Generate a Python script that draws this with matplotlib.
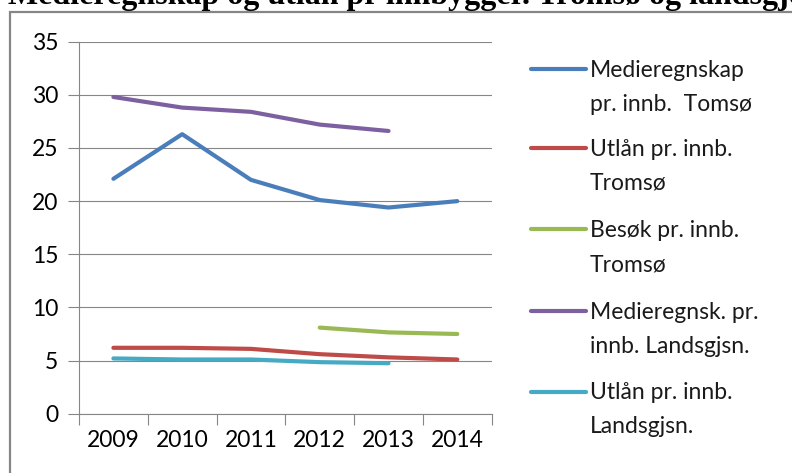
import matplotlib
matplotlib.use('Agg')
import matplotlib.pyplot as plt
from matplotlib.patches import Rectangle
from matplotlib.lines import Line2D
import numpy as np

# data
years = ['2009', '2010', '2011', '2012', '2013', '2014']
medie_tromso = [22.1, 26.3, 22.0, 20.1, 19.4, 20.0]
utlan_tromso = [6.2, 6.2, 6.1, 5.6, 5.3, 5.1]
besok_tromso = [np.nan, np.nan, np.nan, 8.1, 7.65, 7.5]
medie_land = [29.8, 28.8, 28.4, 27.2, 26.6, np.nan]
utlan_land = [5.2, 5.1, 5.1, 4.85, 4.75, np.nan]

labels = ['Medieregnskap\npr. innb.  Tomsø',
          'Utlån pr. innb.\nTromsø',
          'Besøk pr. innb.\nTromsø',
          'Medieregnsk. pr.\ninnb. Landsgjsn.',
          'Utlån pr. innb.\nLandsgjsn.']
colors = ['#4A7EBB', '#BE4B48', '#98B954', '#7D60A0', '#46AAC5']
title = 'Medieregnskap og utlån pr innbygger. Tromsø og landsgjennomsnitt'

plt.rcParams['font.family'] = ['Lato', 'DejaVu Sans']

W, H = 792, 473
fig = plt.figure(figsize=(W / 100, H / 100), dpi=100)

def fx(px):
    return px / W

def fy(py):
    return 1 - py / H

# outer frame (cut off at right and bottom)
fig.patches.append(Rectangle((fx(9.5), -0.1), 1.2, fy(12) + 0.1,
                             transform=fig.transFigure, fill=False,
                             edgecolor='#868686', linewidth=1.6))
fig.text(fx(8), fy(4), title, fontsize=23, fontweight='bold',
         family='Liberation Serif', va='baseline', ha='left')

ax = fig.add_axes([fx(79), fy(413.7), fx(491.7 - 79), (413.7 - 41.7) / H])
x = np.arange(len(years))
series = [medie_tromso, utlan_tromso, besok_tromso, medie_land, utlan_land]
for s, c in zip(series, colors):
    ax.plot(x, s, color=c, linewidth=3.0, solid_capstyle='round',
            solid_joinstyle='round')

ax.set_xlim(-0.5, len(years) - 0.5)
ax.set_ylim(0, 35)
ax.set_yticks(range(0, 36, 5))
ax.yaxis.grid(True, color='#868686', linewidth=0.8)
ax.set_axisbelow(True)
ax.set_xticks(np.arange(-0.5, len(years), 1))
ax.set_xticklabels([])
ax.set_xticks(x, minor=True)
ax.set_xticklabels(years, minor=True)
ax.tick_params(axis='x', which='major', length=8, color='#868686', direction='out')
ax.tick_params(axis='x', which='minor', length=0, labelsize=16.5, pad=12)
ax.tick_params(axis='y', length=8, color='#868686', labelsize=16.5, pad=7)
for sp in ['top', 'right']:
    ax.spines[sp].set_visible(False)
for sp in ['left', 'bottom']:
    ax.spines[sp].set_color('#868686')
    ax.spines[sp].set_linewidth(0.8)

# legend drawn by hand: handle lines up with first text line
leg_y = [69, 148.3, 229.3, 311, 391.7]
for lab, c, yy in zip(labels, colors, leg_y):
    fig.add_artist(Line2D([fx(531), fx(586)], [fy(yy), fy(yy)], color=c,
                          linewidth=3.0, solid_capstyle='round',
                          transform=fig.transFigure))
    for k, part in enumerate(lab.split('\n')):
        fig.text(fx(590), fy(yy + 7.7 + 34 * k), part, fontsize=16.5,
                 va='baseline', ha='left', color='#1a1a1a')

fig.savefig('out.png', dpi=100)
